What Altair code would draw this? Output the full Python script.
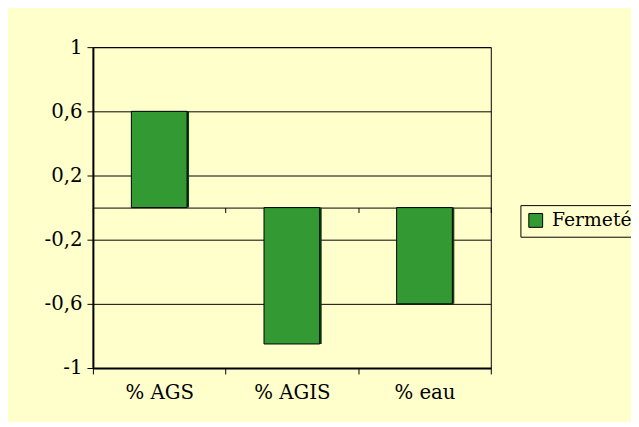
import altair as alt
import pandas as pd

categories = ["% AGS", "% AGIS", "% eau"]
values = [0.6, -0.85, -0.6]
series_name = "Fermeté"
y_ticks = [1, 0.6, 0.2, -0.2, -0.6, -1]

df = pd.DataFrame({"cat": categories, "val": values, "series": [series_name] * len(categories)})

W, H = 403, 325
BG = "#FFFFCC"
FONT = "DejaVu Serif"

xscale = alt.Scale(domain=categories, paddingInner=0, paddingOuter=0)
yscale = alt.Scale(domain=[-1, 1], nice=False, zero=True)

y_axis = alt.Axis(
    values=y_ticks,
    labelExpr="replace(toString(datum.value), '.', ',')",
    grid=True, gridColor="black", gridWidth=1, gridOpacity=1,
    domainColor="black", domainWidth=2, tickColor="black", tickSize=6,
    labelPadding=5, labelFont=FONT, labelFontSize=20, labelColor="black",
)

base = alt.Chart(df)

shadow = base.mark_bar(width=alt.RelativeBandSize(0.42), xOffset=2, color="#123d12").encode(
    x=alt.X("cat:N", sort=categories, scale=xscale, title=None,
            axis=alt.Axis(orient="bottom", offset=-H / 2, labels=False, domainColor="black",
                          domainWidth=1, tickColor="black", tickSize=5, tickBand="extent",
                          grid=False)),
    y=alt.Y("val:Q", scale=yscale, axis=y_axis, title=None),
)

bars = base.mark_bar(width=alt.RelativeBandSize(0.42), stroke="black", strokeWidth=1).encode(
    x=alt.X("cat:N", sort=categories, scale=xscale, title=None,
            axis=alt.Axis(orient="bottom", labelAngle=0, domainColor="black", domainWidth=2,
                          tickColor="black", tickSize=6, tickBand="extent", grid=False,
                          labelPadding=9, labelFont=FONT, labelFontSize=20,
                          labelColor="black")),
    y=alt.Y("val:Q", scale=yscale, axis=y_axis, title=None),
    color=alt.Color("series:N", scale=alt.Scale(range=["#339933"]),
                    legend=alt.Legend(title=None, orient="none", legendX=433, legendY=160,
                                      strokeColor="black", fillColor=BG, padding=6,
                                      symbolType="square", symbolSize=196,
                                      symbolStrokeColor="black", symbolStrokeWidth=1,
                                      symbolOpacity=1, labelOffset=7, labelFont=FONT,
                                      labelFontSize=19, labelColor="black")),
)

chart = (
    alt.layer(shadow, bars)
    .resolve_axis(x="independent")
    .properties(width=W, height=H, autosize="none",
                padding={"left": 86, "top": 37, "right": 142, "bottom": 52},
                background=BG)
    .configure(font=FONT)
    .configure_axis(labelFont=FONT, labelFontSize=20, labelColor="black")
    .configure_legend(labelFont=FONT, labelFontSize=19, labelColor="black")
    .configure_view(stroke="black", strokeWidth=1, fill=BG)
)

chart.save("out.html", embed_options={"renderer": "svg", "actions": False})
